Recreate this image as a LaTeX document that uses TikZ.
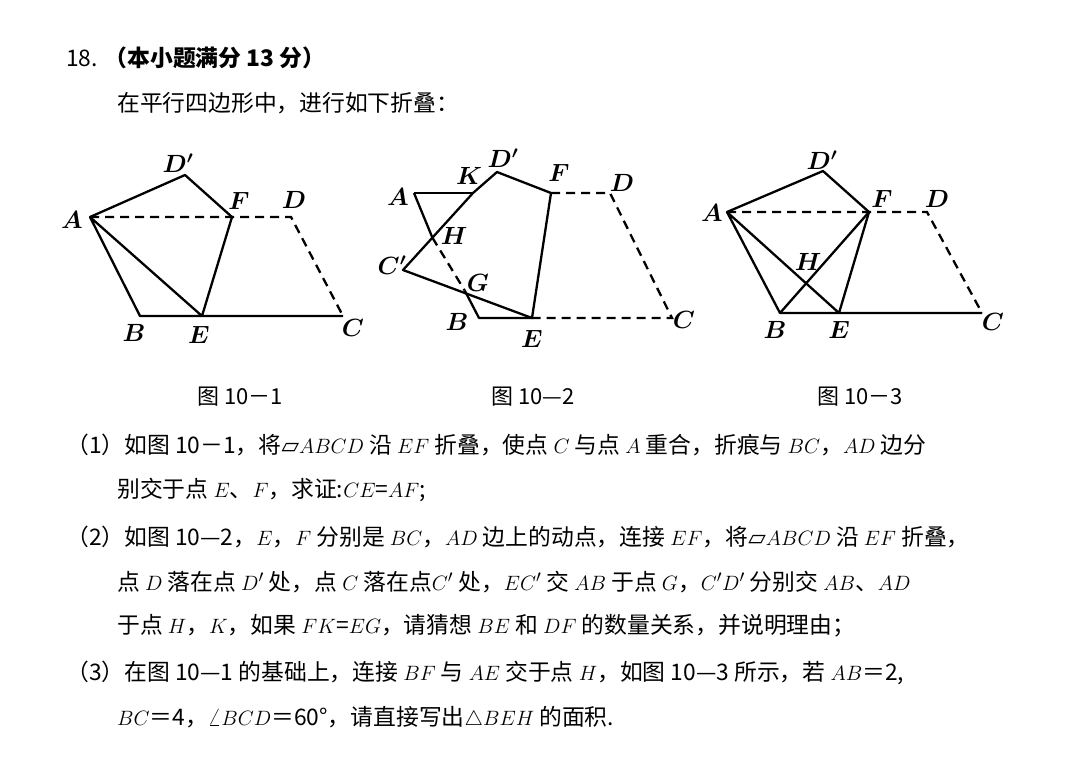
\documentclass[tikz,border=0pt]{standalone}
\usepackage{fontspec}
\setmainfont{Noto Sans CJK SC}
\newfontfamily\dejavu{DejaVu Sans}
\usetikzlibrary{calc}
\tikzset{
  seg/.style={line width=2.3pt, line join=round},
  hid/.style={line width=2.3pt, dash pattern=on 9pt off 6pt},
  lbl/.style={font=\fontsize{24}{24}\selectfont\boldmath},
  txt/.style={anchor=west, inner sep=0pt, font=\fontsize{22.8}{26}\selectfont},
  figcap/.style={inner sep=0pt, font=\fontsize{22}{26}\selectfont}
}
\newcommand{\pgram}{{\dejavu ▱}}
\begin{document}
\begin{tikzpicture}[x=1pt,y=-1pt]
\useasboundingbox (0,0) rectangle (1080,764);
\fill[white] (0,0) rectangle (1080,764);

% figure 10-1
\coordinate (A1) at (90,217);
\coordinate (D'1) at (185,175);
\coordinate (F1) at (232,217);
\coordinate (D1) at (291,217);
\coordinate (C1) at (343,316);
\coordinate (E1) at (202,316);
\coordinate (B1) at (140,316);
\draw[seg] (A1) -- (D'1) -- (F1) -- (E1) -- (A1) -- (B1) -- (C1);
\draw[hid] (A1) -- (D1) -- (C1);
\node[lbl] at (72,220) {$A$};
\node[lbl] at (178,163) {$D'$};
\node[lbl] at (239,201) {$F$};
\node[lbl] at (294,200) {$D$};
\node[lbl] at (134,333) {$B$};
\node[lbl] at (199,335) {$E$};
\node[lbl] at (353,328) {$C$};

% figure 10-2
\coordinate (A2) at (414,193);
\coordinate (K2) at (473,193);
\coordinate (D'2) at (497,172);
\coordinate (F2) at (551,193);
\coordinate (D2) at (610,193);
\coordinate (C2) at (672,318);
\coordinate (E2) at (532,318);
\coordinate (B2) at (479,318);
\coordinate (C'2) at (403,270);
\coordinate (H2) at ($(C'2)!0.42!(K2)$);
\coordinate (G2) at ($(A2)!0.78!(B2)$);
\draw[seg] (A2) -- (K2);
\draw[seg] (A2) -- (H2);
\draw[hid] (H2) -- (G2);
\draw[seg] (G2) -- (B2) -- (E2);
\draw[seg] (K2) -- (D'2) -- (F2) -- (E2) -- (C'2) -- (K2);
\draw[hid] (F2) -- (D2) -- (C2) -- (E2);
\node[lbl] at (398,197) {$A$};
\node[lbl] at (469,176) {$K$};
\node[lbl] at (503,158) {$D'$};
\node[lbl] at (559,173) {$F$};
\node[lbl] at (622,183) {$D$};
\node[lbl] at (454,236) {$H$};
\node[lbl] at (392,265) {$C'$};
\node[lbl] at (478,283) {$G$};
\node[lbl] at (457,322) {$B$};
\node[lbl] at (532,339) {$E$};
\node[lbl] at (684,320) {$C$};

% figure 10-3
\coordinate (A3) at (727,212);
\coordinate (D'3) at (823,171);
\coordinate (F3) at (869,212);
\coordinate (D3) at (927,212);
\coordinate (C3) at (982,313);
\coordinate (E3) at (839,313);
\coordinate (B3) at (780,313);
\draw[seg] (A3) -- (D'3) -- (F3) -- (E3) -- (A3) -- (B3) -- (C3);
\draw[seg] (B3) -- (F3);
\draw[hid] (A3) -- (D3) -- (C3);
\node[lbl] at (712,213) {$A$};
\node[lbl] at (822,160) {$D'$};
\node[lbl] at (882,199) {$F$};
\node[lbl] at (937,199) {$D$};
\node[lbl] at (808,262) {$H$};
\node[lbl] at (775,330) {$B$};
\node[lbl] at (839,330) {$E$};
\node[lbl] at (993,322) {$C$};

% captions
\node[figcap] (cap1) at (240,397) {图 10－1};
\node[figcap] (cap2) at (533,397) {图 10—2};
\node[figcap] (cap3) at (860,397) {图 10－3};

% text
\node[txt] (t0) at (66,58) {18. \textbf{（本小题满分 13 分）}};
\node[txt] (t1) at (117,103) {在平行四边形中，进行如下折叠：};
\node[txt] (p1) at (66,445) {（1）如图 10－1，将\pgram$ABCD$ 沿 $EF$ 折叠，使点 $C$ 与点 $A$ 重合，折痕与 $BC$，$AD$ 边分};
\node[txt] (p1b) at (117,490) {别交于点 $E$、$F$，求证:$CE$=$AF$;};
\node[txt] (p2) at (66,537) {（2）如图 10—2，$E$，$F$ 分别是 $BC$，$AD$ 边上的动点，连接 $EF$，将\pgram$ABCD$ 沿 $EF$ 折叠，};
\node[txt] (p2b) at (117,582) {点 $D$ 落在点 $D'$ 处，点 $C$ 落在点$C'$ 处，$EC'$ 交 $AB$ 于点 $G$，$C'D'$ 分别交 $AB$、$AD$};
\node[txt] (p2c) at (117,626) {于点 $H$，$K$，如果 $FK$=$EG$，请猜想 $BE$ 和 $DF$ 的数量关系，并说明理由；};
\node[txt] (p3) at (66,673) {（3）在图 10—1 的基础上，连接 $BF$ 与 $AE$ 交于点 $H$，如图 10—3 所示，若 $AB$＝2,};
\node[txt] (p3b) at (117,718) {$BC$＝4，$\angle BCD$＝60°，请直接写出$\triangle BEH$ 的面积.};
\end{tikzpicture}
\end{document}
